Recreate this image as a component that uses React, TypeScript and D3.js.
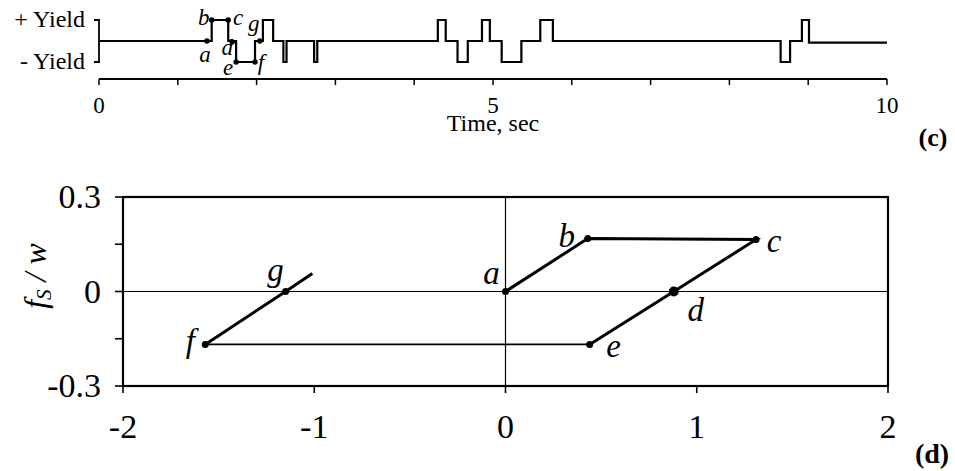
import React from "react";
import * as d3 from "d3";

// ---------- Panel (c): yield signal vs time ----------
const signalTimes = [0, 1.43, 1.64, 1.74, 1.98, 2.08, 2.21, 2.34, 2.38, 2.73, 2.77, 4.30, 4.40, 4.55, 4.68, 4.86, 4.96, 5.11, 5.36, 5.60, 5.76, 8.65, 8.77, 8.92, 9.01];
const signalLevels = [0, 1, 0, -1, 0, 1, 0, -1, 0, -1, 0, 1, 0, -1, 0, 1, 0, -1, 0, 1, 0, -1, 0, 1, -0.08];
const signalEnd = 10;
const timeTicks = [0, 1, 2, 3, 4, 5, 6, 7, 8, 9, 10];
const timeTickLabels = [0, 5, 10];
const signalDotNames = ["a", "b", "c", "d", "e", "f", "g"];
const signalDotTimes = [1.37, 1.43, 1.64, 1.69, 1.74, 1.98, 2.04];
const signalDotLevels = [0, 1, 1, -0.05, -1, -1, 0];

// ---------- Panel (d): fs/w vs displacement ----------
const loopNames = ["a", "b", "c", "d", "e", "f", "g", ""];
const loopX = [0, 0.43, 1.31, 0.88, 0.44, -1.57, -1.15, -1.01];
const loopY = [0, 0.168, 0.165, 0, -0.168, -0.168, 0, 0.057];
const xTicks = [-2, -1, 0, 1, 2];
const yTicks = [0.3, 0.15, 0, -0.15, -0.3];
const yTickLabels = ["0.3", "", "0", "", "-0.3"];

const SERIF = '"Liberation Serif", "Times New Roman", "DejaVu Serif", serif';

export default function App() {
  // panel c scales
  const tx = d3.scaleLinear().domain([0, 10]).range([99, 887]);
  const ly = d3.scaleLinear().domain([-1, 1]).range([62, 20]);
  const axisY = 79;
  const sigPts: [number, number][] = signalTimes.map((t, i) => [t, signalLevels[i]]);
  sigPts.push([signalEnd, signalLevels[signalLevels.length - 1]]);
  const sigLine = d3
    .line<[number, number]>()
    .x((d) => tx(d[0]))
    .y((d) => ly(d[1]))
    .curve(d3.curveStepAfter);

  // panel d scales
  const x = d3.scaleLinear().domain([-2, 2]).range([123, 888]);
  const y = d3.scaleLinear().domain([-0.3, 0.3]).range([386, 197]);
  const ln = d3
    .line<number>()
    .x((i) => x(loopX[i]))
    .y((i) => y(loopY[i]));

  const sigLabelOffsets: Record<string, [number, number]> = {
    a: [-2, 21],
    b: [-8, 5],
    c: [10, 5],
    d: [-5, 13],
    e: [-8, 13],
    f: [6, 8],
    g: [-6, -10],
  };
  const loopLabelOffsets: Record<string, [number, number]> = {
    a: [-14, -8],
    b: [-21, 8],
    c: [18, 12],
    d: [22, 29],
    e: [24, 13],
    f: [-15, 8],
    g: [-10, -11],
  };

  return (
    <svg
      width={955}
      height={471}
      style={{ position: "absolute", left: 0, top: 0, background: "#fff" }}
      fontFamily={SERIF}
    >
      <rect x={0} y={0} width={955} height={471} fill="#fff" />
      {/* ---------------- Panel (c) ---------------- */}
      <g>
        {/* y bracket */}
        <path
          d={`M${tx(0) - 5},${ly(1)}H${tx(0)}V${ly(-1)}H${tx(0) - 5}`}
          fill="none"
          stroke="#000"
          strokeWidth={1.8}
        />
        <text x={85} y={ly(1) + 7} textAnchor="end" fontSize={24}>
          + Yield
        </text>
        <text x={85} y={ly(-1) + 7} textAnchor="end" fontSize={24}>
          - Yield
        </text>
        {/* signal */}
        <path d={sigLine(sigPts) || ""} fill="none" stroke="#000" strokeWidth={2.2} />
        {signalDotNames.map((n, i) => (
          <g key={n}>
            <circle cx={tx(signalDotTimes[i])} cy={ly(signalDotLevels[i])} r={2.7} fill="#000" />
            <text
              x={tx(signalDotTimes[i]) + sigLabelOffsets[n][0]}
              y={ly(signalDotLevels[i]) + sigLabelOffsets[n][1]}
              fontSize={23}
              fontStyle="italic"
              textAnchor="middle"
            >
              {n}
            </text>
          </g>
        ))}
        {/* time axis */}
        <line x1={tx(0)} x2={tx(10)} y1={axisY} y2={axisY} stroke="#000" strokeWidth={1.8} />
        {timeTicks.map((t) => (
          <line key={t} x1={tx(t)} x2={tx(t)} y1={axisY} y2={axisY + 6} stroke="#000" strokeWidth={1.5} />
        ))}
        {timeTickLabels.map((t) => (
          <text key={t} x={tx(t)} y={113} textAnchor="middle" fontSize={23}>
            {t}
          </text>
        ))}
        <text x={tx(5)} y={131} textAnchor="middle" fontSize={24}>
          Time, sec
        </text>
        <text x={933} y={146} textAnchor="middle" fontSize={26} fontWeight="bold">
          (c)
        </text>
      </g>

      {/* ---------------- Panel (d) ---------------- */}
      <g>
        {/* zero lines */}
        <line x1={x(-2)} x2={x(2)} y1={y(0)} y2={y(0)} stroke="#000" strokeWidth={1.2} />
        <line x1={x(0)} x2={x(0)} y1={y(0.3)} y2={y(-0.3)} stroke="#000" strokeWidth={1.2} />
        {/* frame */}
        <rect
          x={x(-2)}
          y={y(0.3)}
          width={x(2) - x(-2)}
          height={y(-0.3) - y(0.3)}
          fill="none"
          stroke="#000"
          strokeWidth={2.2}
        />
        {/* ticks */}
        {yTicks.map((v, i) => (
          <g key={v}>
            <line x1={x(-2) - 8} x2={x(-2)} y1={y(v)} y2={y(v)} stroke="#000" strokeWidth={1.6} />
            {yTickLabels[i] && (
              <text x={101} y={y(v) + 11} textAnchor="end" fontSize={34}>
                {yTickLabels[i]}
              </text>
            )}
          </g>
        ))}
        {xTicks.map((v) => (
          <g key={v}>
            <line x1={x(v)} x2={x(v)} y1={y(-0.3)} y2={y(-0.3) + 7} stroke="#000" strokeWidth={1.6} />
            <text x={x(v)} y={438} textAnchor="middle" fontSize={34}>
              {v}
            </text>
          </g>
        ))}
        {/* y label */}
        <text transform="translate(46,276) rotate(-90)" textAnchor="middle" fontSize={32} fontStyle="italic">
          f
          <tspan fontSize={21} dy={5}>
            S
          </tspan>
          <tspan dy={-5}> / w</tspan>
        </text>
        {/* loop */}
        <path d={ln([0, 1, 2, 3, 4]) || ""} fill="none" stroke="#000" strokeWidth={3} />
        <path d={ln([4, 5]) || ""} fill="none" stroke="#000" strokeWidth={1.6} />
        <path d={ln([5, 6, 7]) || ""} fill="none" stroke="#000" strokeWidth={3} />
        {loopNames.map((n, i) =>
          n ? (
            <g key={n}>
              <circle cx={x(loopX[i])} cy={y(loopY[i])} r={n === "d" ? 5 : 3.5} fill="#000" />
              <text
                x={x(loopX[i]) + loopLabelOffsets[n][0]}
                y={y(loopY[i]) + loopLabelOffsets[n][1]}
                fontSize={33}
                fontStyle="italic"
                textAnchor="middle"
              >
                {n}
              </text>
            </g>
          ) : null
        )}
        <text x={932} y={463} textAnchor="middle" fontSize={28} fontWeight="bold">
          (d)
        </text>
      </g>
    </svg>
  );
}
